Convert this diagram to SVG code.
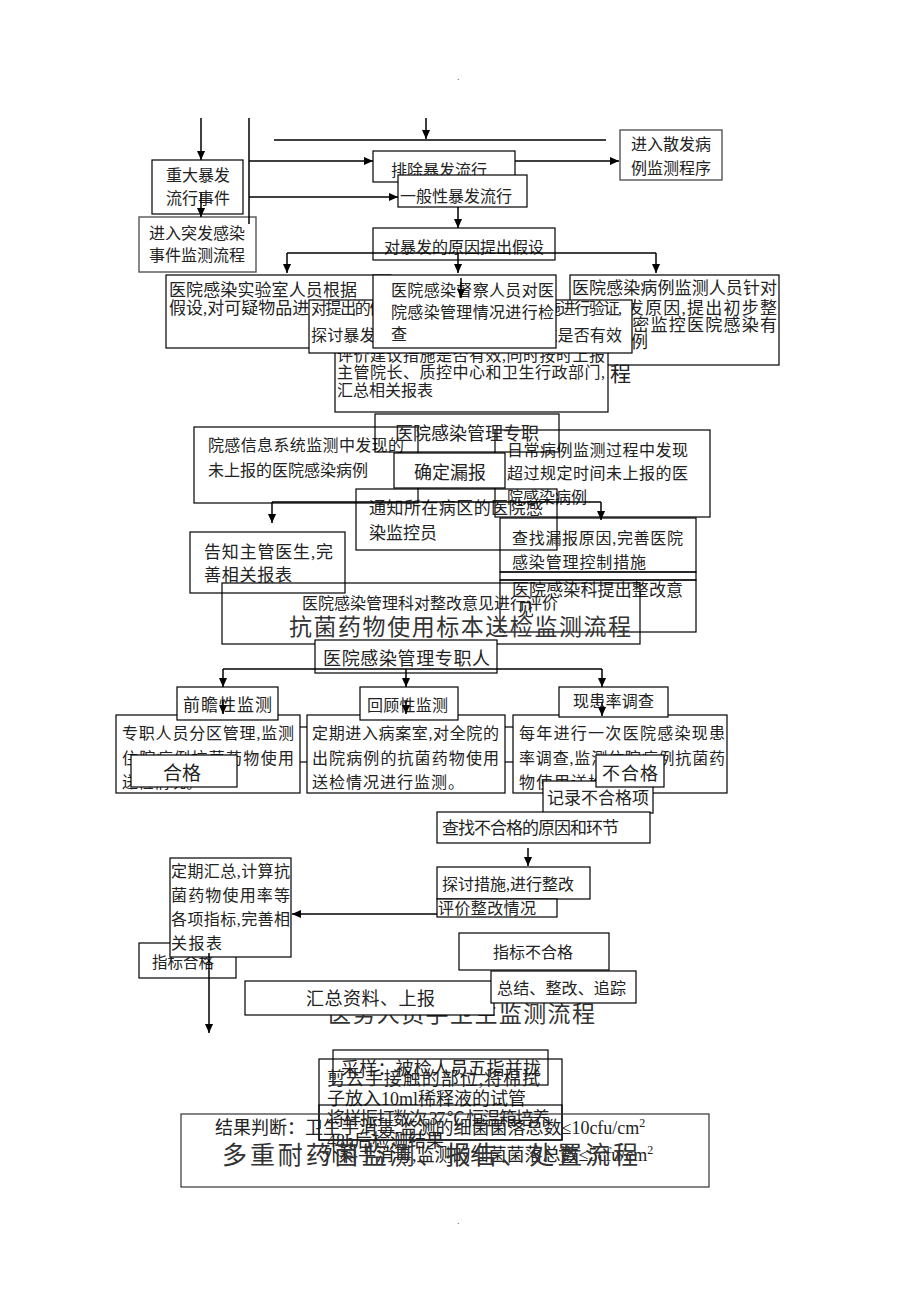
<svg xmlns="http://www.w3.org/2000/svg" width="920" height="1302" viewBox="0 0 920 1302">
<defs>
<marker id="ah" viewBox="0 0 10 10" refX="10" refY="5" markerWidth="9" markerHeight="9" markerUnits="userSpaceOnUse" orient="auto"><path d="M0,0.5 L10,5 L0,9.5 z" fill="#000"/></marker>
<style>
.n{fill:none;stroke:#000;stroke-width:1.2}
.w{fill:#fff;stroke:#000;stroke-width:1.2}
.g{fill:#fff;stroke:#555;stroke-width:1.4}
.t{font-family:"Liberation Serif","Noto Sans CJK SC",serif;font-size:16px;fill:#222}
.h{font-family:"Liberation Serif","Noto Sans CJK SC",serif;font-size:23px;fill:#333}
.c{fill:none;stroke:#000;stroke-width:1.5}
.a{marker-end:url(#ah)}
</style>
</defs>
<rect width="920" height="1302" fill="#fff"/>
<text class="t" x="457" y="80" style="font-size:10px;fill:#666">.</text>
<text class="t" x="457" y="1224" style="font-size:10px;fill:#666">.</text>

<g id="n-major"><rect class="n" x="152" y="160" width="91" height="54"/><text class="t" x="166" y="181">重大暴发</text><text class="t" x="166" y="204">流行事件</text></g>
<g id="n-emergency"><rect class="g" x="139" y="217" width="117" height="55"/><text class="t" x="149" y="239">进入突发感染</text><text class="t" x="149" y="261">事件监测流程</text></g>
<g id="n-exclude"><rect class="n" x="373" y="151" width="142" height="31"/><text class="t" x="391" y="176">排除暴发流行</text></g>
<g id="n-general"><rect class="w" x="398" y="175" width="129" height="32"/><text class="t" x="400" y="202">一般性暴发流行</text></g>
<g id="n-sporadic"><rect class="g" x="620" y="130" width="102" height="50"/><text class="t" x="631" y="150">进入散发病</text><text class="t" x="631" y="174">例监测程序</text></g>
<g id="n-hypothesis"><rect class="n" x="373" y="228" width="182" height="32"/><text class="t" x="384" y="253">对暴发的原因提出假设</text></g>

<g id="n-lab"><rect class="w" x="166" y="275" width="225" height="73"/><text class="t" x="169" y="296" style="font-size:17px" textLength="188">医院感染实验室人员根据</text><text class="t" x="169" y="314" style="font-size:17px">假设,对可疑物品进行检验</text></g>
<g id="n-case"><rect class="w" x="570" y="275" width="209" height="90"/><text class="t" x="572" y="294" style="font-size:17px" textLength="205">医院感染病例监测人员针对</text><text class="t" x="572" y="314" style="font-size:17px" textLength="205">可疑暴发原因,提出初步整</text><text class="t" x="572" y="331" style="font-size:17px" textLength="205">措施,严密监控医院感染有</text><text class="t" x="572" y="348" style="font-size:17px" textLength="76">关的病例</text></g>
<g id="n-evaluate"><rect class="w" x="335" y="347" width="273" height="65"/><text class="t" x="337" y="361" textLength="268">评价建议措施是否有效,同时按时上报</text><text class="t" x="337" y="378" textLength="268">主管院长、质控中心和卫生行政部门,</text><text class="t" x="337" y="396">汇总相关报表</text></g>
<g id="n-verify"><rect class="w" x="309" y="300" width="323" height="53"/><text class="t" x="311" y="314" textLength="311">对提出的假设采取相应的有效控制措施进行验证,</text><text class="t" x="311" y="341" textLength="311">探讨暴发的原因,评价所采取的措施是否有效</text></g>
<g id="n-inspect"><rect class="w" x="373" y="275" width="183" height="73"/><text class="t" x="391" y="296" textLength="163">医院感染督察人员对医</text><text class="t" x="391" y="318" textLength="163">院感染管理情况进行检</text><text class="t" x="391" y="340">查</text></g>
<text class="t" x="610" y="381" style="font-size:21px">程</text>

<g id="n-info"><rect class="n" x="194" y="427" width="224" height="76"/><text class="t" x="208" y="451" textLength="196">院感信息系统监测中发现的</text><text class="t" x="208" y="476">未上报的医院感染病例</text></g>
<g id="n-daily"><rect class="n" x="495" y="430" width="215" height="87"/><text class="t" x="507" y="456" textLength="181">日常病例监测过程中发现</text><text class="t" x="507" y="479" textLength="181">超过规定时间未上报的医</text><text class="t" x="507" y="503">院感染病例</text></g>
<g id="n-staff1"><rect class="n" x="375" y="414" width="184" height="38"/><text class="t" x="395" y="440" style="font-size:18px">医院感染管理专职</text></g>
<g id="n-confirm"><rect class="w" x="394" y="453" width="111" height="35"/><text class="t" x="414" y="479" style="font-size:18px">确定漏报</text></g>
<g id="n-notify"><rect class="n" x="356" y="489" width="201" height="61"/><text class="t" x="369" y="514" style="font-size:17px" textLength="174">通知所在病区的医院感</text><text class="t" x="369" y="539" style="font-size:17px">染监控员</text></g>
<g id="n-tell"><rect class="n" x="190" y="532" width="155" height="61"/><text class="t" x="204" y="558" style="font-size:17px" textLength="129">告知主管医生,完</text><text class="t" x="204" y="581" style="font-size:17px" textLength="88">善相关报表</text></g>
<g id="n-cause"><rect class="n" x="500" y="518" width="196" height="54"/><text class="t" x="512" y="544" textLength="171">查找漏报原因,完善医院</text><text class="t" x="512" y="568" textLength="134">感染管理控制措施</text></g>
<g id="n-strip"><rect class="n" x="500" y="572" width="196" height="8"/></g>
<g id="n-propose"><rect class="n" x="500" y="580" width="196" height="52"/><text class="t" x="512" y="596" style="font-size:17px" textLength="171">医院感染科提出整改意</text><text class="t" x="517" y="616" style="font-size:17px">见</text></g>
<g id="n-assess"><rect class="n" x="222" y="583" width="418" height="61"/><text class="t" x="302" y="609">医院感染管理科对整改意见进行评价</text><text class="h" x="289" y="635" textLength="342">抗菌药物使用标本送检监测流程</text></g>

<g id="n-staff2"><rect class="w" x="315" y="640" width="182" height="33"/><text class="t" x="323" y="665" style="font-size:18px" textLength="167">医院感染管理专职人</text></g>
<rect class="n" x="290" y="727" width="230" height="35"/>
<g id="n-pros"><rect class="w" x="116" y="715" width="184" height="78"/><text class="t" x="122" y="739" textLength="172">专职人员分区管理,监测</text><text class="t" x="122" y="764" textLength="172">住院病例抗菌药物使用</text><text class="t" x="122" y="788">送检情况。</text></g>
<g id="n-retro"><rect class="w" x="307" y="715" width="198" height="78"/><text class="t" x="312" y="739" textLength="187">定期进入病案室,对全院的</text><text class="t" x="312" y="764" textLength="187">出院病例的抗菌药物使用</text><text class="t" x="312" y="788" textLength="152">送检情况进行监测。</text></g>
<g id="n-prev"><rect class="w" x="513" y="715" width="214" height="78"/><text class="t" x="519" y="739" textLength="206">每年进行一次医院感染现患</text><text class="t" x="519" y="764" textLength="206">率调查,监测住院病例抗菌药</text><text class="t" x="519" y="788" textLength="120">物使用送检情况</text></g>
<g id="n-prosh"><rect class="w" x="177" y="687" width="101" height="33"/><text class="t" x="183" y="711" style="font-size:17px" textLength="89">前瞻性监测</text></g>
<g id="n-retroh"><rect class="w" x="360" y="687" width="98" height="33"/><text class="t" x="367" y="711" textLength="81">回顾性监测</text></g>
<g id="n-prevh"><rect class="w" x="559" y="687" width="109" height="30"/><text class="t" x="573" y="707" textLength="81">现患率调查</text></g>
<g id="n-pass"><rect class="w" x="131" y="755" width="106" height="32"/><text class="t" x="163" y="780" style="font-size:19px">合格</text></g>
<g id="n-record"><rect class="w" x="543" y="781" width="110" height="32"/><text class="t" x="547" y="804" style="font-size:17px">记录不合格项</text></g>
<g id="n-fail"><rect class="w" x="596" y="755" width="68" height="32"/><text class="t" x="602" y="780" style="font-size:18px" textLength="56">不合格</text></g>
<g id="n-find"><rect class="w" x="437" y="812" width="213" height="31"/><text class="t" x="442" y="834" style="font-size:17px" textLength="177">查找不合格的原因和环节</text></g>
<g id="n-discuss"><rect class="n" x="437" y="867" width="153" height="32"/><text class="t" x="442" y="890" textLength="132">探讨措施,进行整改</text></g>
<g id="n-review"><rect class="w" x="437" y="899" width="120" height="18"/><text class="t" x="438" y="914" textLength="98">评价整改情况</text></g>
<g id="n-ok"><rect class="n" x="139" y="943" width="97" height="35"/><text class="t" x="152" y="968" style="font-size:15.5px">指标合格</text></g>
<g id="n-sum"><rect class="w" x="170" y="858" width="121" height="99"/><text class="t" x="171" y="877" textLength="119">定期汇总,计算抗</text><text class="t" x="171" y="901" textLength="119">菌药物使用率等</text><text class="t" x="171" y="925" textLength="119">各项指标,完善相</text><text class="t" x="171" y="949" textLength="51">关报表</text></g>
<g id="n-bad"><rect class="n" x="459" y="933" width="150" height="37"/><text class="t" x="493" y="958">指标不合格</text></g>
<text class="h" x="328" y="1022" textLength="267">医务人员手卫生监测流程</text>
<g id="n-report"><rect class="w" x="245" y="981" width="249" height="34"/><text class="t" x="306" y="1005" style="font-size:18px" textLength="129">汇总资料、上报</text></g>
<g id="n-track"><rect class="w" x="491" y="971" width="145" height="32"/><text class="t" x="497" y="994" textLength="129">总结、整改、追踪</text></g>

<g id="n-sample"><rect class="n" x="333" y="1050" width="215" height="35"/><text class="t" x="341" y="1075" style="font-size:18px" textLength="200">采样：被检人员五指并拢</text></g>
<g id="n-swab"><rect class="n" x="319" y="1059" width="243" height="81"/><text class="t" x="327" y="1085" style="font-size:18px" textLength="213">剪去手接触的部位,将棉拭</text><text class="t" x="327" y="1105" style="font-size:18px">子放入10ml稀释液的试管</text></g>
<g id="n-culture"><rect class="n" x="319" y="1105" width="243" height="35"/><text class="t" x="327" y="1125" style="font-size:18px" textLength="223">将样振打数次,37 ℃ 恒温箱培养</text><text class="t" x="327" y="1147" style="font-size:18px">48h后检测结果</text></g>
<g id="n-judge"><rect class="n" x="181" y="1114" width="528" height="73" style="stroke:#333"/><text class="t" x="215" y="1134" style="font-size:18px">结果判断：卫生手消毒,监测的细菌菌落总数≤10cfu/cm<tspan dy="-7" style="font-size:12px">2</tspan></text><text class="t" x="322" y="1161" style="font-size:18px">外科手消毒,监测的细菌菌落总数≤5cfu/cm<tspan dy="-7" style="font-size:12px">2</tspan></text><text class="h" x="222" y="1164" style="font-size:25px" textLength="416">多重耐药菌监测、报告、处置流程</text></g>

<g id="connectors">
<path class="c a" d="M201,118 V160"/>
<path class="c" d="M249,118 V224"/>
<path class="c" d="M274,140 H606"/>
<path class="c a" d="M426,118 V139"/>
<path class="c a" d="M249,161 H373"/>
<path class="c a" d="M515,161 H619"/>
<path class="c a" d="M249,197 H398"/>
<path class="c a" d="M201,193 V217"/>
<path class="c a" d="M458,207 V228"/>
<path class="c" d="M287,253 H656"/>
<path class="c a" d="M287,253 V273"/>
<path class="c a" d="M458,253 V273"/>
<path class="c a" d="M656,253 V273"/>
<path class="c a" d="M461,278 V298"/>
<path class="c" d="M272,502 H601"/>
<path class="c a" d="M272,502 V523"/>
<path class="c a" d="M601,502 V520"/>
<path class="c" d="M223,669 H602"/>
<path class="c a" d="M223,669 V687"/>
<path class="c a" d="M406,669 V687"/>
<path class="c a" d="M602,669 V687"/>
<path class="c a" d="M223,700 V714"/>
<path class="c a" d="M406,700 V714"/>
<path class="c a" d="M602,702 V716"/>
<path class="c a" d="M528,848 V866"/>
<path class="c a" d="M437,914 H292"/>
<path class="c a" d="M209,953 V1033"/>
</g>
</svg>
